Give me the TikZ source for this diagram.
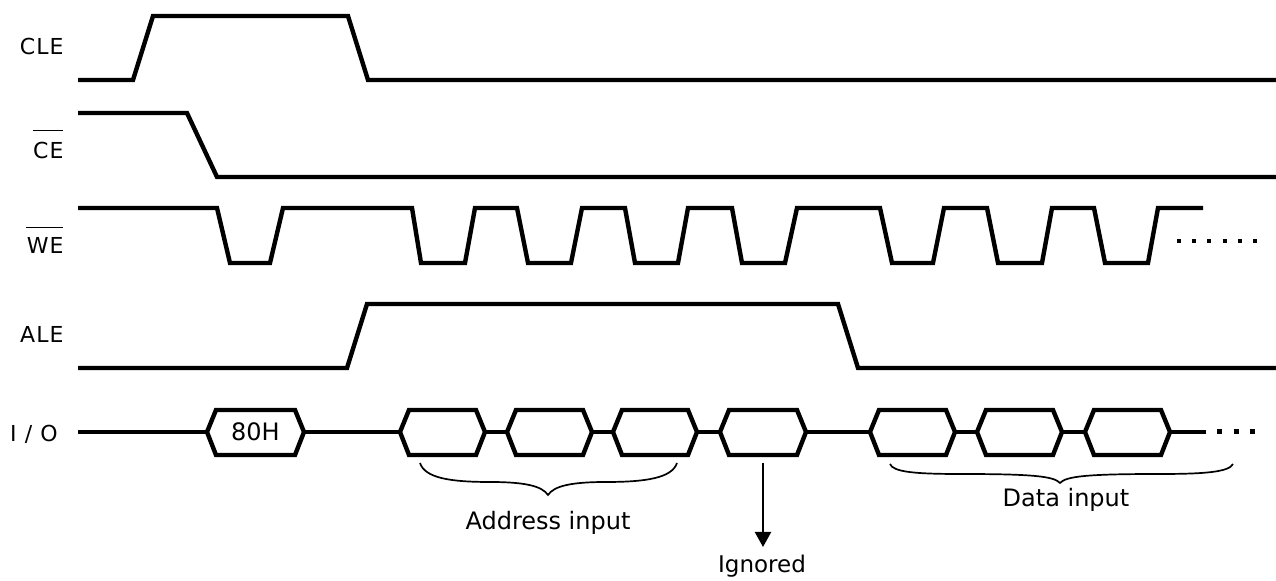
\documentclass[tikz,border=0pt]{standalone}
\usepackage{fontspec}
\setmainfont{DejaVu Sans}
\newfontfamily\lblfont[LetterSpace=5]{DejaVu Sans}
\usetikzlibrary{arrows.meta}
\newcommand\hexbus[4]{%
  \draw[sig] (#2,432) -- (#2+9,410) -- (#3-9,410) -- (#3,432) -- (#3-9,455) -- (#2+9,455) -- cycle;
  \pgfmathsetmacro\hexw{(#3-#2)*0.5}%
  \node[busnode, minimum width=\hexw pt, minimum height=22.5pt] (#1) at ({(#2+#3)/2},432) {#4};}
\begin{document}
\begin{tikzpicture}[x=0.5pt,y=-0.5pt,
  sig/.style={line width=2.2pt, line join=miter, line cap=butt},
  bracel/.style={line width=0.85pt},
  sname/.style={font=\lblfont\fontsize{11}{13}\selectfont, inner sep=0pt, anchor=base east},
  blbl/.style={font=\fontsize{12}{14}\selectfont, inner sep=0pt, anchor=base},
  busnode/.style={inner sep=0pt, font=\fontsize{12}{14}\selectfont}]
\useasboundingbox (0,0) rectangle (1276,581);

% signal names
\node[sname] (cle) at (64,55) {CLE};
\node[sname] (ce) at (64,159) {CE};
\node[sname] (we) at (64,254) {WE};
\node[sname] (ale) at (64,343) {ALE};
\node[sname] (io) at (58,442) {I / O};
\draw[line width=0.7pt] ([yshift=6pt]ce.north west) -- ([yshift=6pt,xshift=-0.5pt]ce.north east);
\draw[line width=0.7pt] ([yshift=5pt]we.north west) -- ([yshift=5pt,xshift=-0.5pt]we.north east);

% CLE
\draw[sig] (78,80) -- (133,80) -- (153,16) -- (348,16) -- (368,80) -- (1276,80);
% CE
\draw[sig] (78,113) -- (187,113) -- (217,177) -- (1276,177);
% WE
\draw[sig] (78,208) -- (217,208) -- (230,263) -- (270,263) -- (283,208)
  -- (412,208) -- (421,263) -- (465,263) -- (475,208)
  -- (517,208) -- (528,263) -- (571,263) -- (582,208)
  -- (625,208) -- (635,263) -- (678,263) -- (688,208)
  -- (732,208) -- (742,263) -- (785,263) -- (797,208)
  -- (880,208) -- (892,263) -- (933,263) -- (944,208)
  -- (987,208) -- (998,263) -- (1042,263) -- (1052,208)
  -- (1094,208) -- (1105,263) -- (1148,263) -- (1158,208) -- (1203,208);
\draw[line width=2pt, dash pattern=on 2pt off 5.6pt] (1177,241) -- (1259,241);
% ALE
\draw[sig] (78,368) -- (347,368) -- (367,304) -- (838,304) -- (858,368) -- (1276,368);

% I/O bus
\hexbus{h1}{207}{304}{80H}
\hexbus{h2}{400}{485}{}
\hexbus{h3}{507}{592}{}
\hexbus{h4}{613}{697}{}
\hexbus{h5}{720}{806}{}
\hexbus{h6}{870}{955}{}
\hexbus{h7}{977}{1062}{}
\hexbus{h8}{1085}{1170}{}
\coordinate (iostart) at (78,432);
\coordinate (ioend) at (1206,432);
\draw[sig] (iostart) -- (h1.west) (h1.east) -- (h2.west) (h2.east) -- (h3.west)
  (h3.east) -- (h4.west) (h4.east) -- (h5.west) (h5.east) -- (h6.west)
  (h6.east) -- (h7.west) (h7.east) -- (h8.west) (h8.east) -- (ioend);
\draw[line width=2.5pt, dash pattern=on 2.5pt off 5.85pt] (1217,432) -- (1256,432);

% braces
\draw[bracel] (420,463) .. controls (425,478) and (450,482) .. (490,482)
  .. controls (525,482) and (542,486) .. (548,495)
  .. controls (554,486) and (571,482) .. (606,482)
  .. controls (646,482) and (672,478) .. (677,463);
\draw[bracel] (890,464) .. controls (893,472) and (915,474) .. (960,474)
  .. controls (1030,474) and (1054,476) .. (1060,483)
  .. controls (1066,476) and (1090,474) .. (1160,474)
  .. controls (1205,474) and (1229,472) .. (1233,464);

\node[blbl] (addr) at (548,530) {Address input};
\node[blbl] (data) at (1066,507) {Data input};
\node[blbl, font=\fontsize{11.5}{13}\selectfont] (ign) at (762,573) {Ignored};
\coordinate (igtip) at (763,547);
\draw[line width=1.1pt, -{Triangle[width=8pt,length=7.5pt]}] ([yshift=-4pt]h5.south) -- (igtip);
\end{tikzpicture}
\end{document}
